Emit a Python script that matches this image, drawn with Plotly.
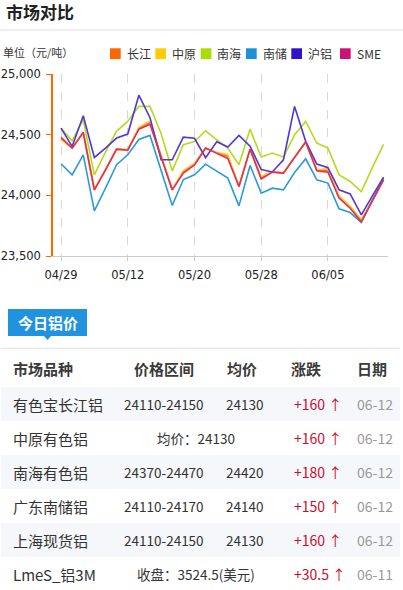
import plotly.graph_objects as go

W, H = 403, 590

# ---------------- data ----------------
dates = ["04/29", "04/30", "05/06", "05/07", "05/08", "05/09", "05/12", "05/13", "05/14", "05/15",
         "05/16", "05/19", "05/20", "05/21", "05/22", "05/23", "05/26", "05/27", "05/28", "05/29",
         "05/30", "06/02", "06/03", "06/04", "06/05", "06/06", "06/09", "06/10", "06/11", "06/12"]
tick_dates = ["04/29", "05/12", "05/20", "05/28", "06/05"]

changjiang = [24465, 24389, 24518, 24045, 24210, 24381, 24375, 24549, 24600, 24320,
              24045, 24195, 24252, 24389, 24350, 24320, 24073, 24381, 24145, 24195,
              24183, 24315, 24439, 24205, 24205, 23985, 23900, 23790, 23960, 24130]
zhongyuan = [24460, 24389, 24518, 24045, 24210, 24381, 24375, 24560, 24612, 24320,
             24045, 24205, 24262, 24389, 24355, 24335, 24073, 24381, 24155, 24195,
             24183, 24315, 24439, 24210, 24218, 23995, 23910, 23800, 23960, 24130]
nanhai = [24554, 24450, 24623, 24169, 24358, 24530, 24609, 24733, 24733, 24510,
          24202, 24417, 24444, 24532, 24458, 24389, 24252, 24546, 24315, 24348,
          24315, 24499, 24609, 24431, 24389, 24169, 24114, 24030, 24230, 24420]
nanchu = [24260, 24169, 24334, 23872, 24059, 24252, 24334, 24460, 24494, 24205,
          23916, 24130, 24169, 24257, 24202, 24142, 23913, 24246, 24018, 24059,
          24045, 24188, 24301, 24128, 24101, 23889, 23858, 23776, 23960, 24140]
hulv = [24554, 24403, 24656, 24312, 24389, 24472, 24505, 24825, 24640, 24293,
        24293, 24480, 24470, 24310, 24442, 24398, 24494, 24405, 24213, 24193,
        24293, 24733, 24445, 24258, 24228, 24045, 24012, 23839, 23996, 24150]
sme = [24478, 24389, 24518, 24045, 24210, 24381, 24372, 24545, 24585, 24320,
       24045, 24183, 24250, 24389, 24345, 24303, 24073, 24381, 24135, 24191,
       24183, 24312, 24439, 24202, 24191, 23977, 23894, 23782, 23960, 24128]

series_names = ["长江", "中原", "南海", "南储", "沪铝", "SME"]
series_values = [changjiang, zhongyuan, nanhai, nanchu, hulv, sme]
series_colors = ["#FF6600", "#FFCC00", "#AADD00", "#1E90D8", "#3311CC", "#CC1177"]
line_colors = ["#FF6a10", "#FFC820", "#B4DC1E", "#2A9ADC", "#5534D8", "#E0305A"]

y_ticks = [23500, 24000, 24500, 25000]

table_headers = ["市场品种", "价格区间", "均价", "涨跌", "日期"]
markets = ["有色宝长江铝", "中原有色铝", "南海有色铝", "广东南储铝", "上海现货铝", "LmeS_铝3M"]
price_ranges = ["24110-24150", "均价：24130", "24370-24470", "24110-24170", "24110-24150", "收盘：3524.5(美元)"]
avg_prices = ["24130", "", "24420", "24140", "24130", ""]
changes = ["+160", "+160", "+180", "+150", "+160", "+30.5"]
quote_dates = ["06-12", "06-12", "06-12", "06-12", "06-12", "06-11"]

# ---------------- helpers ----------------
def fx(x):
    return x / W


def fy(y):
    return 1 - y / H


CJK = "Noto Sans CJK SC"
fig = go.Figure()

for name, vals, col in zip(series_names, series_values, line_colors):
    fig.add_trace(go.Scatter(x=dates, y=vals, mode="lines", name=name,
                             line=dict(color=col, width=1.6), showlegend=False,
                             hoverinfo="x+y+name"))

shapes = []
annotations = []

# title
annotations.append(dict(x=fx(4), y=fy(11), xref="paper", yref="paper", xanchor="left", yanchor="middle",
                        text="<b>市场对比</b>", showarrow=False, font=dict(family=CJK, size=17, color="#222")))
shapes.append(dict(type="line", xref="paper", yref="paper", x0=0, x1=1, y0=fy(30), y1=fy(30),
                   line=dict(color="#ebebeb", width=1.5)))
annotations.append(dict(x=fx(1), y=fy(52), xref="paper", yref="paper", xanchor="left", yanchor="middle",
                        text="单位（元/吨）", showarrow=False, font=dict(family=CJK, size=11, color="#333")))

# legend (custom squares)
legend_x = [110, 155.3, 200.7, 246, 291.3, 340]
for lx, name, col in zip(legend_x, series_names, series_colors):
    shapes.append(dict(type="rect", xref="paper", yref="paper", x0=fx(lx), x1=fx(lx + 10.7),
                       y0=fy(59), y1=fy(48.3), fillcolor=col, line=dict(width=0)))
    annotations.append(dict(x=fx(lx + 14.5), y=fy(53.5), xref="paper", yref="paper", xanchor="left",
                            yanchor="middle", text=name, showarrow=False,
                            font=dict(family=CJK, size=12, color="#333")))

# tab "今日铝价"
tab_path = "M {a},{t} L {b},{t} L {b},{bt} L {p1},{bt} L {pm},{pt} L {p0},{bt} L {a},{bt} Z".format(
    a=fx(8), b=fx(87), t=fy(309), bt=fy(336), p0=fx(44), p1=fx(51), pm=fx(47.5), pt=fy(340))
shapes.append(dict(type="path", xref="paper", yref="paper", path=tab_path,
                   fillcolor="#2192DD", line=dict(width=0)))
annotations.append(dict(x=fx(47.5), y=fy(322.5), xref="paper", yref="paper", xanchor="center",
                        yanchor="middle", text="<b>今日铝价</b>", showarrow=False,
                        font=dict(family=CJK, size=15, color="#fff")))
shapes.append(dict(type="line", xref="paper", yref="paper", x0=fx(1), x1=fx(400), y0=fy(348.3), y1=fy(348.3),
                   line=dict(color="#e6e4f4", width=1.2)))

# table header
head_x = [11, 164, 242, 306, 372]
head_anchor = ["left", "center", "center", "center", "center"]
for hx, ha, txt in zip(head_x, head_anchor, table_headers):
    annotations.append(dict(x=fx(hx), y=fy(368), xref="paper", yref="paper", xanchor=ha, yanchor="middle",
                            text="<b>" + txt + "</b>", showarrow=False,
                            font=dict(family=CJK, size=15, color="#3a3a3a")))

# table rows
for k in range(len(markets)):
    top = 387 + 34 * k
    cy = top + 17
    if k % 2 == 0:
        shapes.append(dict(type="rect", xref="paper", yref="paper", x0=fx(1), x1=fx(400),
                           y0=fy(top + 34), y1=fy(top), fillcolor="#f6f7fa", line=dict(width=0), layer="below"))
    annotations.append(dict(x=fx(11), y=fy(cy), xref="paper", yref="paper", xanchor="left", yanchor="middle",
                            text=markets[k], showarrow=False, font=dict(family=CJK, size=15, color="#333")))
    if avg_prices[k]:
        annotations.append(dict(x=fx(163.5), y=fy(cy), xref="paper", yref="paper", xanchor="center",
                                yanchor="middle", text=price_ranges[k], showarrow=False,
                                font=dict(family=CJK, size=13.5, color="#333")))
        annotations.append(dict(x=fx(244.5), y=fy(cy), xref="paper", yref="paper", xanchor="center",
                                yanchor="middle", text=avg_prices[k], showarrow=False,
                                font=dict(family=CJK, size=13.5, color="#333")))
    else:
        annotations.append(dict(x=fx(195.5), y=fy(cy), xref="paper", yref="paper", xanchor="center",
                                yanchor="middle", text=price_ranges[k], showarrow=False,
                                font=dict(family=CJK, size=13.5, color="#333")))
    annotations.append(dict(x=fx(291.5), y=fy(cy), xref="paper", yref="paper", xanchor="left", yanchor="middle",
                            text=changes[k] + " ↑", showarrow=False,
                            font=dict(family=CJK, size=14, color="#C8102E")))
    annotations.append(dict(x=fx(375), y=fy(cy), xref="paper", yref="paper", xanchor="center", yanchor="middle",
                            text=quote_dates[k], showarrow=False, font=dict(family=CJK, size=14, color="#999")))

fig.update_layout(
    width=W, height=H,
    margin=dict(l=0, r=0, t=0, b=0),
    paper_bgcolor="white", plot_bgcolor="white",
    showlegend=False,
    shapes=shapes, annotations=annotations,
    xaxis=dict(domain=[fx(53), fx(388)], type="category", range=[-0.72, 29.4],
               tickmode="array", tickvals=tick_dates, ticktext=tick_dates,
               showgrid=True, gridcolor="#d8d8d8", griddash="dash", gridwidth=1,
               showline=True, linecolor="#cccccc", linewidth=1,
               ticks="outside", ticklen=4, tickcolor="#cccccc",
               tickfont=dict(family="DejaVu Sans", size=11.5, color="#222"),
               ticklabelstandoff=4, automargin=False, zeroline=False, fixedrange=True),
    yaxis=dict(domain=[fy(256), fy(74)], range=[23500, 25000],
               tickmode="array", tickvals=y_ticks, tickformat=",d",
               showgrid=False, zeroline=False,
               showline=True, linecolor="#FF6600", linewidth=1.5,
               ticks="outside", ticklen=5, tickcolor="#FF6600",
               tickfont=dict(family="DejaVu Sans", size=11.5, color="#222"),
               ticklabelstandoff=3, automargin=False, fixedrange=True),
)

fig.write_html("out.html", config={"displayModeBar": False},
               post_script="document.body.style.margin='0';document.body.style.overflow='hidden';")
